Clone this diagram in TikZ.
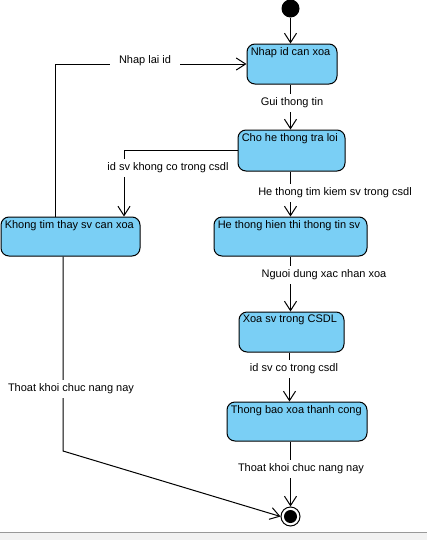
\documentclass[tikz,border=0pt]{standalone}
\usepackage{fontspec}
\setmainfont{Liberation Sans}
\usetikzlibrary{arrows.meta}
\definecolor{boxblue}{RGB}{122,207,245}
\begin{document}
\begin{tikzpicture}[x=0.75pt,y=-0.75pt,
  every node/.style={font=\fontsize{8.25}{10}\selectfont},
  state/.style={draw=black, line width=0.75pt, fill=boxblue, rounded corners=6pt, inner sep=0pt},
  st/.style={anchor=north west, inner sep=0pt, xshift=3pt, yshift=-2.5pt},
  lbl/.style={fill=white, inner xsep=2pt, inner ysep=3pt},
  arr/.style={draw=black, line width=0.75pt, -{Straight Barb[length=7pt,width=9pt]}}]
\useasboundingbox (0,0) rectangle (427,540);
\fill[white] (0,0) rectangle (427,540);
\fill[gray!10] (0,532) rectangle (427,540);
\draw[gray!80, line width=0.75pt] (0,532) -- (427,532);

\node[circle, fill=black, minimum size={18*0.75pt}, inner sep=0pt] (init) at (290.5,8.5) {};
\node[state, minimum width={90*0.75pt}, minimum height={40*0.75pt}] (b1) at (292,64) {};
\node[st] (t1) at (b1.north west) {Nhap id can xoa};
\node[state, minimum width={107*0.75pt}, minimum height={41*0.75pt}] (b2) at (291.5,150.5) {};
\node[st] (t2) at (b2.north west) {Cho he thong tra loi};
\node[state, minimum width={139*0.75pt}, minimum height={39*0.75pt}] (b3) at (70.5,236.5) {};
\node[st] (t3) at (b3.north west) {Khong tim thay sv can xoa};
\node[state, minimum width={153*0.75pt}, minimum height={39*0.75pt}] (b4) at (290.5,236.5) {};
\node[st] (t4) at (b4.north west) {He thong hien thi thong tin sv};
\node[state, minimum width={105*0.75pt}, minimum height={40*0.75pt}] (b5) at (291.5,332) {};
\node[st] (t5) at (b5.north west) {Xoa sv trong CSDL};
\node[state, minimum width={140*0.75pt}, minimum height={39*0.75pt}] (b6) at (297,421.5) {};
\node[st] (t6) at (b6.north west) {Thong bao xoa thanh cong};

\node[circle, draw=black, line width=0.75pt, fill=white, minimum size={19*0.75pt}, inner sep=0pt] (fin) at (290.5,516.5) {};
\node[circle, fill=black, minimum size={13*0.75pt}, inner sep=0pt] (finin) at (fin) {};

\coordinate (ax) at (290.5,0);
\coordinate (c23) at (124,150);
\coordinate (c31a) at (55,64);
\coordinate (c3f) at (63,451);

\draw[arr] (init) -- (b1.north -| init);
\draw[arr] (b1.south -| ax) -- (b2.north -| ax);
\draw[arr] (b2.west |- c23) -- (c23) -- (b3.north -| c23);
\draw[arr] (b3.north -| c31a) -- (c31a) -- (b1.west |- c31a);
\draw[arr] (b2.south -| ax) -- (b4.north -| ax);
\draw[arr] (b4.south -| ax) -- (b5.north -| ax);
\draw[arr] (b5.south -| 289.5,0) -- (b6.north -| 289.5,0);
\draw[arr] (b6.south -| ax) -- (fin.north);
\draw[arr] (b3.south -| c3f) -- (c3f) -- (fin.west);

\node[lbl] (l1) at (292,103) {Gui thong tin};
\node[lbl] (l2) at (168,168) {id sv khong co trong csdl};
\node[lbl, inner xsep=7pt] (l3) at (145,61) {Nhap lai id};
\node[lbl] (l4) at (335,193) {He thong tim kiem sv trong csdl};
\node[lbl] (l5) at (324,275) {Nguoi dung xac nhan xoa};
\node[lbl] (l6) at (294,369) {id sv co trong csdl};
\node[lbl] (l7) at (71,389) {Thoat khoi chuc nang nay};
\node[lbl] (l8) at (301,469) {Thoat khoi chuc nang nay};
\end{tikzpicture}
\end{document}
